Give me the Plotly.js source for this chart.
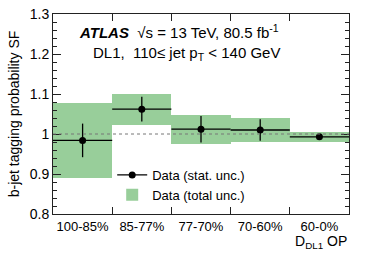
<!DOCTYPE html>
<html>
<head>
<meta charset="utf-8">
<script src="https://cdn.plot.ly/plotly-3.0.1.min.js"></script>
<style>html,body{margin:0;padding:0;background:#fff;}#chart{width:374px;height:256px;}</style>
</head>
<body>
<div id="chart"></div>
<script>
var categories = ['100-85%', '85-77%', '77-70%', '70-60%', '60-0%'];
var binCenters = [0.5, 1.5, 2.5, 3.5, 4.5];
var binHalfWidth = [0.5, 0.5, 0.5, 0.5, 0.5];
var binEdges = [1, 2, 3, 4];
var sfValues = [0.984, 1.062, 1.012, 1.010, 0.993];
var statUnc = [0.042, 0.031, 0.033, 0.027, 0.003];
var totalLow = [0.890, 1.023, 0.976, 0.981, 0.981];
var totalHigh = [1.078, 1.100, 1.047, 1.040, 1.006];

var FONT = 'Liberation Sans, Arial, Helvetica, sans-serif';
var green = 'rgb(152,206,154)';

var bandHeights = totalHigh.map(function (h, i) { return h - totalLow[i]; });

var traces = [
  {
    type: 'scatter',
    mode: 'lines+markers',
    x: [null],
    y: [null],
    line: { color: 'black', width: 1.3 },
    marker: { color: 'black', size: 7 },
    name: 'Data (stat. unc.)'
  },
  {
    type: 'bar',
    x: binCenters,
    y: bandHeights,
    base: totalLow,
    width: 1,
    marker: { color: green, line: { width: 0 } },
    name: 'Data (total unc.)',
    hoverinfo: 'skip'
  },
  {
    type: 'scatter',
    mode: 'markers',
    x: binCenters,
    y: sfValues,
    marker: { color: 'black', size: 7, symbol: 'circle' },
    error_x: { type: 'data', array: binHalfWidth, color: 'black', thickness: 1.3, width: 0 },
    error_y: { type: 'data', array: statUnc, color: 'black', thickness: 1.3, width: 0 },
    showlegend: false,
    name: 'Data (stat. unc.)'
  }
];

var layout = {
  width: 374,
  height: 256,
  margin: { l: 53, r: 25, t: 14, b: 42 },
  paper_bgcolor: 'white',
  plot_bgcolor: 'white',
  font: { family: FONT, color: 'black', size: 13 },
  bargap: 0,
  showlegend: true,
  legend: {
    x: 0.2, y: 0.27, xanchor: 'left', yanchor: 'top',
    bgcolor: 'rgba(0,0,0,0)',
    font: { family: FONT, size: 13, color: 'black' },
    itemwidth: 30,
    traceorder: 'normal',
    tracegroupgap: 0
  },
  xaxis: {
    range: [0, 5],
    tickmode: 'array',
    tickvals: binCenters,
    ticktext: categories,
    ticks: '',
    showgrid: false,
    zeroline: false,
    showline: true,
    linecolor: '#222',
    linewidth: 1,
    mirror: 'ticks',
    tickfont: { family: FONT, size: 13 },
    minor: { tickmode: 'array', tickvals: binEdges, ticks: 'inside', ticklen: 7, tickcolor: '#222', tickwidth: 1, showgrid: false }
  },
  yaxis: {
    range: [0.8, 1.3],
    dtick: 0.1,
    tick0: 0.8,
    ticks: 'inside',
    ticklen: 8,
    tickcolor: '#222',
    showgrid: false,
    zeroline: false,
    showline: true,
    linecolor: '#222',
    linewidth: 1,
    mirror: 'ticks',
    tickfont: { family: FONT, size: 14 },
    minor: { dtick: 0.02, ticks: 'inside', ticklen: 4, tickcolor: '#222', tickwidth: 1, showgrid: false },
    title: { text: 'b-jet tagging probability SF', font: { family: FONT, size: 14 }, standoff: 6 }
  },
  shapes: [
    { type: 'line', xref: 'paper', yref: 'y', x0: 0, x1: 1, y0: 1, y1: 1,
      line: { color: '#777', width: 1, dash: 'dot' }, layer: 'above' }
  ],
  annotations: [
    { xref: 'paper', yref: 'paper', x: 0.08, y: 0.91, xanchor: 'left', yanchor: 'middle', showarrow: false,
      text: '<b><i>ATLAS</i></b>  √s = 13 TeV, 80.5 fb<sup>-1</sup>', font: { family: FONT, size: 15 } },
    { xref: 'paper', yref: 'paper', x: 0.13, y: 0.80, xanchor: 'left', yanchor: 'middle', showarrow: false,
      text: 'DL1,  110≤ jet p<sub>T</sub> < 140 GeV', font: { family: FONT, size: 15 } },
    { xref: 'paper', yref: 'paper', x: 1, y: -0.085, xanchor: 'right', yanchor: 'top', showarrow: false,
      text: 'D<sub>DL1</sub> OP', font: { family: FONT, size: 14 } }
  ]
};

Plotly.newPlot('chart', traces, layout, { displayModeBar: false, staticPlot: true });
</script>
</body>
</html>
